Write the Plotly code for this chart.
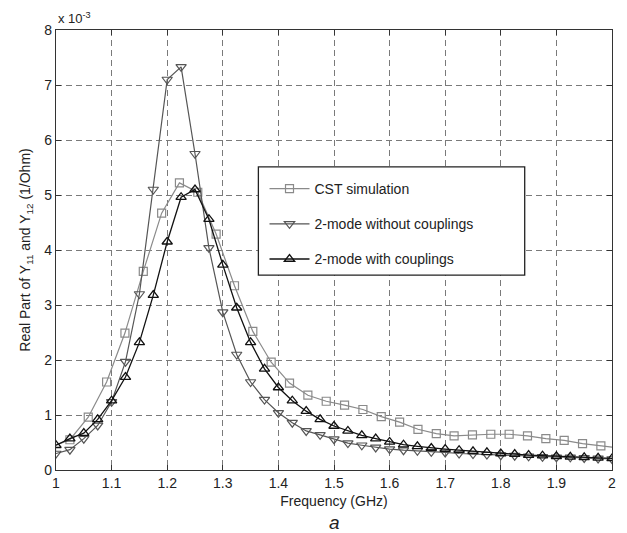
import plotly.graph_objects as go

# Frequency grid (GHz) of the two-mode model curves
freq_model = [1.000, 1.025, 1.050, 1.075, 1.100, 1.125, 1.150, 1.175, 1.200, 1.225,
              1.250, 1.275, 1.300, 1.325, 1.350, 1.375, 1.400, 1.425, 1.450, 1.475,
              1.500, 1.525, 1.550, 1.575, 1.600, 1.625, 1.650, 1.675, 1.700, 1.725,
              1.750, 1.775, 1.800, 1.825, 1.850, 1.875, 1.900, 1.925, 1.950, 1.975,
              2.000]

# 2-mode model without couplings (x 1e-3 1/Ohm)
y_no_coupling = [0.30, 0.37, 0.57, 0.81, 1.24, 1.97, 3.20, 5.10, 7.10, 7.33,
                 5.75, 4.04, 2.87, 2.10, 1.60, 1.28, 1.04, 0.86, 0.71, 0.64,
                 0.56, 0.49, 0.45, 0.41, 0.38, 0.36, 0.35, 0.33, 0.32, 0.30,
                 0.29, 0.28, 0.27, 0.26, 0.25, 0.24, 0.23, 0.23, 0.22, 0.21,
                 0.20]

# 2-mode model with couplings (x 1e-3 1/Ohm)
y_coupling = [0.45, 0.57, 0.67, 0.92, 1.26, 1.69, 2.32, 3.18, 4.15, 4.96,
              5.10, 4.56, 3.73, 2.95, 2.32, 1.84, 1.50, 1.26, 1.07, 0.92,
              0.80, 0.71, 0.63, 0.57, 0.51, 0.46, 0.43, 0.40, 0.38, 0.36,
              0.34, 0.32, 0.30, 0.29, 0.27, 0.26, 0.25, 0.24, 0.23, 0.22,
              0.21]

# CST full-wave simulation samples
freq_cst = [0.992, 1.025, 1.058, 1.091, 1.124, 1.157, 1.190, 1.222, 1.255, 1.288,
            1.321, 1.354, 1.387, 1.420, 1.453, 1.486, 1.519, 1.552, 1.585, 1.618,
            1.651, 1.684, 1.716, 1.749, 1.782, 1.815, 1.848, 1.881, 1.914, 1.947,
            1.980, 2.013]
y_cst = [0.42, 0.55, 0.96, 1.60, 2.49, 3.61, 4.67, 5.22, 5.05, 4.29,
         3.35, 2.52, 1.96, 1.58, 1.36, 1.25, 1.18, 1.10, 0.97, 0.87,
         0.74, 0.66, 0.62, 0.64, 0.65, 0.65, 0.62, 0.57, 0.54, 0.48,
         0.44, 0.40]

x_ticks = [1, 1.1, 1.2, 1.3, 1.4, 1.5, 1.6, 1.7, 1.8, 1.9, 2]
x_tick_text = ["1", "1.1", "1.2", "1.3", "1.4", "1.5", "1.6", "1.7", "1.8", "1.9", "2"]
y_ticks = [0, 1, 2, 3, 4, 5, 6, 7, 8]

series_names = ["CST simulation", "2-mode without couplings", "2-mode with couplings"]

FONT = "Liberation Sans, Arial, Helvetica, sans-serif"

fig = go.Figure()
fig.add_trace(go.Scatter(
    x=freq_cst, y=y_cst, name=series_names[0], mode="lines+markers",
    line=dict(color="#8a8a8a", width=1.2),
    marker=dict(symbol="square-open", size=8, color="#8a8a8a", line=dict(width=1.2)),
    legendgroup="a"))
fig.add_trace(go.Scatter(
    x=freq_model, y=y_no_coupling, name=series_names[1], mode="lines+markers",
    line=dict(color="#555555", width=1.2),
    marker=dict(symbol="triangle-down-open", size=9, color="#555555", line=dict(width=1.2)),
    legendgroup="b"))
fig.add_trace(go.Scatter(
    x=freq_model, y=y_coupling, name=series_names[2], mode="lines+markers",
    line=dict(color="#111111", width=1.3),
    marker=dict(symbol="triangle-up-open", size=9, color="#111111", line=dict(width=1.3)),
    legendgroup="c"))

axis_common = dict(
    showline=True, linecolor="#333333", linewidth=1.2, mirror="ticks",
    ticks="inside", ticklen=5, tickcolor="#333333", tickwidth=1,
    showgrid=True, gridcolor="#7a7a7a", gridwidth=1, griddash="6px,4px",
    zeroline=False, tickfont=dict(family=FONT, size=14, color="#222222"),
)

fig.update_xaxes(range=[1, 2], tickvals=x_ticks, ticktext=x_tick_text,
                 title=dict(text="Frequency (GHz)", standoff=6,
                            font=dict(family=FONT, size=14, color="#222222")),
                 **axis_common)
fig.update_yaxes(range=[0, 8], tickvals=y_ticks,
                 title=dict(text="Real Part of Y<sub>11</sub> and Y<sub>12</sub> (1/Ohm)",
                            standoff=10, font=dict(family=FONT, size=14, color="#222222")),
                 **axis_common)

# legend frame
fig.add_shape(type="rect", xref="paper", yref="paper",
              x0=0.364, x1=0.843, y0=0.443, y1=0.689,
              line=dict(color="#222222", width=1.3), fillcolor="white", layer="above")

fig.add_annotation(text="x 10<sup>-3</sup>", xref="paper", yref="paper",
                   x=0.0, y=1.0, xanchor="left", yanchor="bottom", yshift=2, showarrow=False,
                   font=dict(family=FONT, size=13, color="#222222"))
fig.add_annotation(text="<i>a</i>", xref="paper", yref="paper",
                   x=0.5, y=0, xanchor="center", yanchor="top", yshift=-40, showarrow=False,
                   font=dict(family=FONT, size=19, color="#222222"))

fig.update_layout(
    width=627, height=533,
    margin=dict(l=56, r=11, t=30, b=63),
    paper_bgcolor="white", plot_bgcolor="white",
    font=dict(family=FONT, color="#222222"),
    legend=dict(x=0.375, y=0.675, xanchor="left", yanchor="top",
                bgcolor="rgba(0,0,0,0)", borderwidth=0,
                tracegroupgap=14, font=dict(family=FONT, size=14, color="#222222"),
                itemwidth=40),
)

fig.write_html("out.html")
